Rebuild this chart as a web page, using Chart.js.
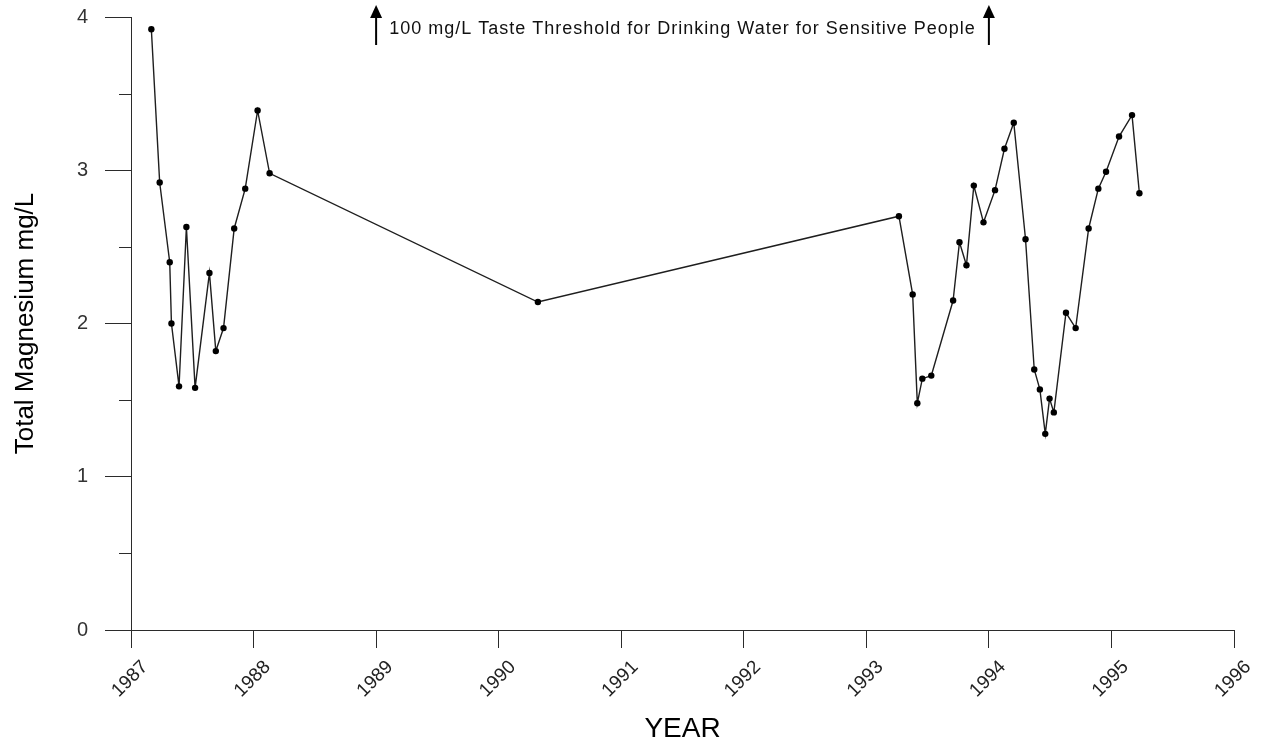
<!DOCTYPE html>
<html>
<head>
<meta charset="utf-8">
<script src="https://cdn.jsdelivr.net/npm/chart.js@4/dist/chart.umd.min.js"></script>
<style>
  html, body { margin: 0; padding: 0; background: #ffffff; }
  #wrap { width: 1277px; height: 746px; }
</style>
</head>
<body>
<div id="wrap"><canvas id="chart" width="1277" height="746"></canvas></div>
<script>
// Sampling dates (decimal years) and total magnesium concentrations (mg/L)
const years = [
  1987.166, 1987.234, 1987.316, 1987.330, 1987.392, 1987.452, 1987.523,
  1987.640, 1987.692, 1987.755, 1987.842, 1987.932, 1988.033, 1988.131,
  1990.320,
  1993.266, 1993.378, 1993.416, 1993.457, 1993.530, 1993.708, 1993.760,
  1993.817, 1993.877, 1993.956, 1994.050, 1994.127, 1994.203, 1994.299,
  1994.370, 1994.416, 1994.460, 1994.495, 1994.530, 1994.629, 1994.708,
  1994.814, 1994.893, 1994.956, 1995.062, 1995.168, 1995.228
];
const magnesium = [
  3.92, 2.92, 2.40, 2.00, 1.59, 2.63, 1.58,
  2.33, 1.82, 1.97, 2.62, 2.88, 3.39, 2.98,
  2.14,
  2.70, 2.19, 1.48, 1.64, 1.66, 2.15, 2.53,
  2.38, 2.90, 2.66, 2.87, 3.14, 3.31, 2.55,
  1.70, 1.57, 1.28, 1.51, 1.42, 2.07, 1.97,
  2.62, 2.88, 2.99, 3.22, 3.36, 2.85
];
// Axis ranges and labels
const yearTicks = [1987, 1988, 1989, 1990, 1991, 1992, 1993, 1994, 1995, 1996];
const valueTicks = [0, 1, 2, 3, 4];
const thresholdYears = [1989, 1994];
const thresholdText = '100 mg/L Taste Threshold for Drinking Water for Sensitive People';

const FONT = '"Liberation Sans", Arial, Helvetica, sans-serif';
const AXIS = '#2b2b2b';

const points = years.map((x, i) => ({ x, y: magnesium[i] }));

// Short half-unit ticks on the value axis
const minorTicks = {
  id: 'minorTicks',
  afterDraw(chart) {
    const y = chart.scales.y;
    const ctx = chart.ctx;
    ctx.save();
    ctx.strokeStyle = AXIS;
    ctx.lineWidth = 1;
    for (let v = valueTicks[0] + 0.5; v < valueTicks[valueTicks.length - 1]; v += 1) {
      const py = Math.round(y.getPixelForValue(v)) + 0.5;
      ctx.beginPath();
      ctx.moveTo(y.right - 12, py);
      ctx.lineTo(y.right, py);
      ctx.stroke();
    }
    ctx.restore();
  }
};

// Off-scale threshold note with upward arrows
const thresholdNote = {
  id: 'thresholdNote',
  afterDraw(chart) {
    const x = chart.scales.x;
    const ctx = chart.ctx;
    const xa = x.getPixelForValue(thresholdYears[0]);
    const xb = x.getPixelForValue(thresholdYears[1]);
    const top = chart.chartArea.top;
    ctx.save();
    ctx.fillStyle = '#000';
    ctx.strokeStyle = '#000';
    ctx.lineWidth = 2;
    [xa, xb].forEach(px => {
      ctx.beginPath();
      ctx.moveTo(px, top + 28);
      ctx.lineTo(px, top - 2);
      ctx.stroke();
      ctx.beginPath();
      ctx.moveTo(px, top - 12);
      ctx.lineTo(px - 6, top + 1);
      ctx.lineTo(px + 6, top + 1);
      ctx.closePath();
      ctx.fill();
    });
    ctx.font = '18px ' + FONT;
    ctx.letterSpacing = '1px';
    ctx.textAlign = 'center';
    ctx.textBaseline = 'middle';
    ctx.fillStyle = '#111';
    ctx.fillText(thresholdText, (xa + xb) / 2, top + 12);
    ctx.restore();
  }
};

new Chart(document.getElementById('chart'), {
  type: 'scatter',
  data: {
    datasets: [{
      data: points,
      showLine: true,
      borderColor: '#1e1e1e',
      borderWidth: 1.4,
      pointRadius: 3.2,
      pointHoverRadius: 3.2,
      pointBackgroundColor: '#000',
      pointBorderColor: '#000',
      pointBorderWidth: 0,
      tension: 0
    }]
  },
  options: {
    responsive: false,
    animation: false,
    events: [],
    layout: { padding: { top: 17, right: 43, left: 0, bottom: 0 } },
    plugins: {
      legend: { display: false },
      tooltip: { enabled: false }
    },
    scales: {
      x: {
        type: 'linear',
        min: yearTicks[0],
        max: yearTicks[yearTicks.length - 1],
        afterBuildTicks(scale) { scale.ticks = yearTicks.map(v => ({ value: v })); },
        afterFit(scale) { scale.height = 116; scale.paddingLeft = 0; scale.paddingRight = 0; },
        ticks: {
          callback: v => String(v),
          minRotation: 45,
          maxRotation: 45,
          padding: 8,
          labelOffset: 14,
          color: '#222',
          font: { family: FONT, size: 19 }
        },
        grid: {
          drawOnChartArea: false,
          drawTicks: true,
          tickLength: 18,
          tickColor: AXIS,
          tickWidth: 1
        },
        border: { display: true, color: AXIS, width: 1 },
        title: {
          display: true,
          text: 'YEAR',
          color: '#000',
          font: { family: FONT, size: 28 },
          padding: { top: 0, bottom: 0 }
        }
      },
      y: {
        type: 'linear',
        min: valueTicks[0],
        max: valueTicks[valueTicks.length - 1],
        afterBuildTicks(scale) { scale.ticks = valueTicks.map(v => ({ value: v })); },
        afterFit(scale) { scale.width = 131; scale.paddingTop = 0; scale.paddingBottom = 0; },
        ticks: {
          padding: 17,
          color: '#333',
          font: { family: FONT, size: 20 }
        },
        grid: {
          drawOnChartArea: false,
          drawTicks: true,
          tickLength: 26,
          tickColor: AXIS,
          tickWidth: 1
        },
        border: { display: true, color: AXIS, width: 1 },
        title: {
          display: true,
          text: 'Total Magnesium mg/L',
          color: '#000',
          font: { family: FONT, size: 26 },
          padding: { top: 10, bottom: 0 }
        }
      }
    }
  },
  plugins: [minorTicks, thresholdNote]
});
</script>
</body>
</html>
